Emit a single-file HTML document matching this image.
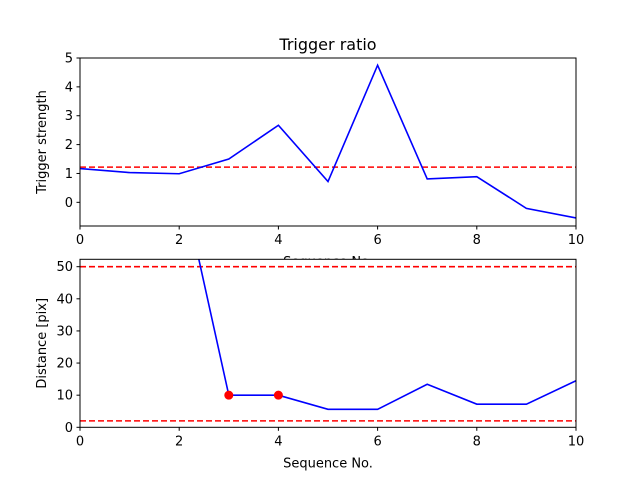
<!DOCTYPE html>
<html><head><meta charset="utf-8"><style>
body{margin:0;background:#fff}
svg text{font-family:"DejaVu Sans","Liberation Sans",sans-serif;fill:#000}
</style></head><body>
<svg id="c" width="640" height="480" xmlns="http://www.w3.org/2000/svg"></svg>
<script>
const seq = [0,1,2,3,4,5,6,7,8,9,10];
const triggerValues = [1.17,1.03,0.99,1.5,2.67,0.72,4.75,0.81,0.89,-0.21,-0.54];
const triggerThreshold = [1.22];
const topTicks = [0,1,2,3,4,5];
const distValues = [120,100,80,10,10,5.6,5.6,13.4,7.2,7.2,14.5];
const distMarkerIdx = [3,4];
const distThresholds = [50,2];
const bottomTicks = [0,10,20,30,40,50];
const xTicks = [0,2,4,6,8,10];

const svg=document.getElementById('c');
const NS='http://www.w3.org/2000/svg';
function el(t,a,p){const e=document.createElementNS(NS,t);for(const k in a)e.setAttribute(k,a[k]);(p||svg).appendChild(e);return e;}
const L=80,R=576;
const sx=v=>L+(v-0)/(10-0)*(R-L);

function panel(name,top,bot,ymin,ymax,ticks,vals,hl,markers,ylabel,xlabel){
  const sy=v=>bot-(v-ymin)/(ymax-ymin)*(bot-top);
  const g=el('g',{});
  
  
  const bg=el('rect',{x:L,y:top,width:R-L,height:bot-top,fill:'#fff'},g);
  
  
  const cid='clip-'+name;
  const cp=el('clipPath',{id:cid},g);el('rect',{x:L,y:top,width:R-L,height:bot-top},cp);
  hl.forEach(v=>{const l=el('line',{x1:L,x2:R,y1:sy(v),y2:sy(v),stroke:'#f00','stroke-width':1.6,'stroke-dasharray':'6,3','clip-path':`url(#${cid})`},g);
    
    });
  const pl=el('polyline',{points:vals.map((v,i)=>sx(seq[i])+','+sy(v)).join(' '),fill:'none',stroke:'#00f','stroke-width':1.6,'clip-path':`url(#${cid})`},g);
  
  
  markers.forEach(i=>{const c=el('circle',{cx:sx(seq[i]),cy:sy(vals[i]),r:4.5,fill:'#f00'},g);
    
    });
  el('rect',{x:L,y:top,width:R-L,height:bot-top,fill:'none',stroke:'#000','stroke-width':1},g);
  ticks.forEach(t=>{const y=sy(t);el('line',{x1:L-3.5,x2:L,y1:y,y2:y,stroke:'#000'},g);
    const tx=el('text',{x:L-7,y:y+4.5,'text-anchor':'end','font-size':13},g);tx.textContent=t;
    
    });
  xTicks.forEach(t=>{const x=sx(t);el('line',{x1:x,x2:x,y1:bot,y2:bot+3.5,stroke:'#000'},g);
    const tx=el('text',{x:x,y:bot+18,'text-anchor':'middle','font-size':13},g);tx.textContent=t;
    
    });
  const yl=el('text',{x:0,y:0,'text-anchor':'middle','font-size':13,transform:`translate(${L-34},${(top+bot)/2}) rotate(-90)`},g);
  yl.textContent=ylabel;
  
  
  const xl=el('text',{x:(L+R)/2,y:bot+40,'text-anchor':'middle','font-size':13},g);
  xl.textContent=xlabel;
  
  
}
const title=el('text',{x:328,y:50,'text-anchor':'middle','font-size':16});
title.textContent='Trigger ratio';


panel('trigger',58,226,-0.82,5,topTicks,triggerValues,triggerThreshold,[],'Trigger strength','Sequence No.');
panel('distance',259.3,427.3,0,52.3,bottomTicks,distValues,distThresholds,distMarkerIdx,'Distance [pix]','Sequence No.');
</script>
</body></html>
